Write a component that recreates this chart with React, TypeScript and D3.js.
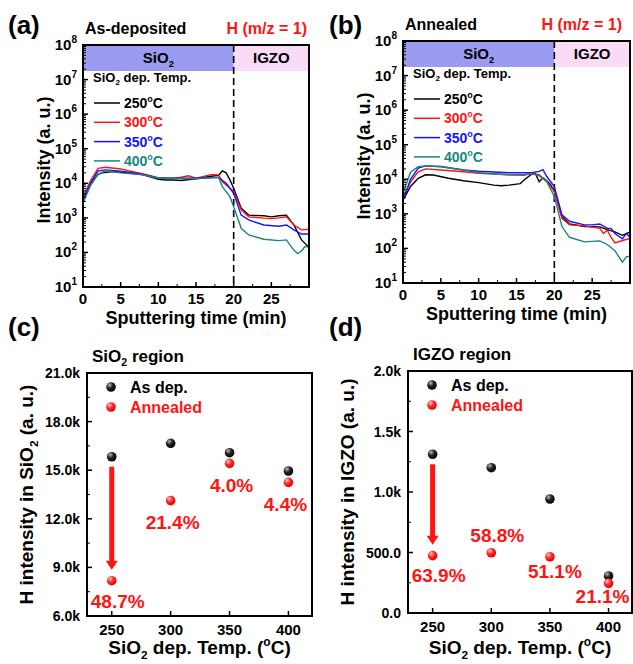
import React from 'react'
import * as d3 from 'd3'

const FONT = "'Liberation Sans', Arial, Helvetica, sans-serif"
const RED = '#ff1414'

// sputtering time (min) vs H intensity, SIMS depth profiles
type Pt = [number, number]

const asDep250: Pt[] = [[0, 3000], [1, 10000], [2, 18000], [2.5, 20000], [4, 22000], [6, 20000], [8, 17500], [10, 13000], [11, 12500], [12, 12500], [13, 12000], [15, 13500], [17, 16000], [18, 17000], [18.5, 23000], [19, 20000], [19.5, 12500], [20, 7200], [21, 1900], [22, 1200], [24, 1150], [25, 1070], [26, 1150], [27, 1200], [28, 620], [29, 230], [30, 140]]
const asDep300: Pt[] = [[0, 4000], [1, 12000], [2, 27000], [3, 29000], [5, 26000], [6, 23000], [8, 18500], [10, 14500], [12, 14000], [13, 15000], [14, 16500], [15, 14000], [17, 17800], [18, 17500], [18.5, 11000], [19, 9000], [20, 5800], [21, 1700], [22, 1070], [24, 980], [25, 950], [26, 1000], [27, 1070], [28, 620], [29, 450], [30, 470]]
const asDep350: Pt[] = [[0, 3300], [1, 10000], [2, 23000], [3, 24500], [5, 22500], [8, 18000], [10, 14000], [12, 14000], [15, 14000], [18, 14800], [19, 10000], [20, 5100], [21, 1200], [22, 870], [24, 620], [26, 570], [27, 620], [28, 450], [29, 340], [30, 340]]
const asDep400: Pt[] = [[0, 2750], [1, 8500], [2, 18500], [3, 23000], [5, 20000], [8, 17500], [10, 14000], [15, 13500], [18, 14800], [18.5, 8000], [19.5, 4100], [20, 2100], [21, 500], [22, 320], [24, 240], [26, 220], [27, 230], [28, 115], [28.5, 93], [29, 110], [29.5, 150], [30, 140]]

const ann250: Pt[] = [[0, 2500], [1, 6200], [2, 10700], [3, 13500], [4, 13300], [6, 10700], [8, 9100], [10, 8000], [12, 6800], [13, 6500], [14, 6800], [15.5, 7500], [16, 9500], [17, 14000], [17.5, 14500], [18, 8500], [18.5, 11000], [19, 9000], [19.5, 7000], [20, 4400], [21, 830], [22, 510], [24, 430], [26, 420], [27, 350], [28, 300], [29, 240], [30, 300]]
const ann300: Pt[] = [[0, 2800], [1, 8400], [2, 16500], [3, 20000], [5, 18600], [8, 16500], [10, 15000], [14, 13500], [16, 13500], [17, 14500], [18, 13500], [19, 8700], [20, 4400], [21, 740], [22, 480], [24, 450], [26, 380], [26.5, 270], [27, 340], [27.5, 210], [28, 145], [29, 170], [30, 195]]
const ann350: Pt[] = [[0, 2500], [1, 10000], [2, 21000], [3, 24500], [5, 23500], [8, 18500], [10, 17000], [14, 15500], [17, 15500], [18, 17000], [18.5, 19000], [19, 12000], [20, 6200], [21, 940], [22, 610], [24, 480], [25, 480], [26, 510], [27, 380], [27.5, 380], [28, 270], [29, 190], [29.5, 270], [30, 210]]
const ann400: Pt[] = [[0, 3900], [1, 16000], [2, 23000], [3, 24500], [5, 23000], [8, 18500], [10, 15500], [14, 13500], [16, 13000], [17, 15000], [18, 12500], [19, 8500], [20, 3200], [21, 430], [22, 210], [24, 155], [26, 165], [27, 130], [28, 86], [29, 40], [29.5, 57], [30, 60]]

const tempLabels = ['250', '300', '350', '400']
const seriesColors = ['#000000', RED, '#1414ff', '#17877f']
const timeTicks = [0, 5, 10, 15, 20, 25]

// integrated H intensity per region
const temps = [250, 300, 350, 400]
const sio2AsDep = [15830, 16660, 16080, 14950]
const sio2Annealed = [8180, 13120, 15420, 14250]
const sio2Drop = ['48.7%', '21.4%', '4.0%', '4.4%']
const sio2Ticks = [6000, 9000, 12000, 15000, 18000, 21000]
const sio2TickLabels = ['6.0k', '9.0k', '12.0k', '15.0k', '18.0k', '21.0k']
const igzoAsDep = [1312, 1201, 942, 306]
const igzoAnnealed = [474, 498, 465, 245]
const igzoDrop = ['63.9%', '58.8%', '51.1%', '21.1%']
const igzoTicks = [0, 500, 1000, 1500, 2000]
const igzoTickLabels = ['0.0', '500.0', '1.0k', '1.5k', '2.0k']

// label nudges (px) for the percentages, relative to the annealed dot
const sio2LabelOffset: Pt[] = [[6, 27], [2, 28], [2, 29], [-3, 29]]
const igzoLabelOffset: Pt[] = [[6, 26], [6, -11], [5, 21], [-6, 20]]

// "SiO2" with subscript, optional trailing text back on the baseline
const SiO2 = ({ size, rest }: { size: number, rest?: React.ReactNode }) => (
    <>
        <tspan>SiO</tspan>
        <tspan dy={size * 0.25} fontSize={size * 0.62}>2</tspan>
        {rest && <tspan dy={-size * 0.25}>{rest}</tspan>}
    </>
)

const Frame = ({ x0, x1, y0, y1 }) => (
    <rect x={x0} y={y0} width={x1 - x0} height={y1 - y0} fill='none' stroke='#000' strokeWidth={2} />
)

const ProfilePanel = ({ id, x0, x1, y0, y1, series, letter, letterX, title, titleY, hEnd }) => {
    const x = d3.scaleLinear().domain([0, 30]).range([x0, x1])
    const y = d3.scaleLog().domain([10, 1e8]).range([y1, y0])
    const line = d3.line<Pt>().x(d => x(d[0])).y(d => y(d[1]))
    const bandBottom = y0 + 26
    const decades = d3.range(1, 9)
    const minors = d3.range(1, 8).flatMap(e => d3.range(2, 10).map(m => m * 10 ** e))
    const xMinor = d3.range(2.5, 30, 5)

    return (
        <g fontFamily={FONT} fontWeight='bold'>
            <clipPath id={id}><rect x={x0} y={y0} width={x1 - x0} height={y1 - y0} /></clipPath>
            <text x={letterX} y={34} fontSize={26}>{letter}</text>
            <text x={x0 + 2} y={titleY} fontSize={16}>{title}</text>
            <text x={hEnd} y={titleY} fontSize={16} fill={RED} textAnchor='end'>H (m/z = 1)</text>

            {/* region bands */}
            <rect x={x0} y={y0} width={x(20) - x0} height={bandBottom - y0} fill='#9b9bf0' />
            <rect x={x(20)} y={y0} width={x1 - x(20)} height={bandBottom - y0} fill='#f8dcf6' />
            <text x={(x0 + x(20)) / 2} y={bandBottom - 8} fontSize={15} textAnchor='middle'><SiO2 size={15} /></text>
            <text x={(x(20) + x1) / 2} y={bandBottom - 8} fontSize={15} textAnchor='middle'>IGZO</text>
            <line x1={x(20)} x2={x(20)} y1={y0} y2={y1} stroke='#000' strokeWidth={1.6} strokeDasharray='7,4' />

            {/* legend */}
            <text x={x0 + 10} y={y0 + 37} fontSize={13}><SiO2 size={13} rest=' dep. Temp.' /></text>
            {tempLabels.map((t, i) => {
                const ly = y0 + 58 + i * 19.3
                return (
                    <g key={t}>
                        <line x1={x0 + 11} x2={x0 + 37} y1={ly} y2={ly} stroke={seriesColors[i]} strokeWidth={1.5} />
                        <text x={x0 + 41} y={ly + 5} fontSize={14} fill={seriesColors[i]}>
                            {t}<tspan dy={-6} fontSize={9}>o</tspan><tspan dy={6}>C</tspan>
                        </text>
                    </g>
                )
            })}

            <g clipPath={`url(#${id})`}>
                {series.map((s, i) => (
                    <path key={i} d={line(s)} fill='none' stroke={seriesColors[i]} strokeWidth={1.4} />
                ))}
            </g>

            {/* y axis */}
            {decades.map(e => (
                <g key={e}>
                    <line x1={x0} x2={x0 + 5} y1={y(10 ** e)} y2={y(10 ** e)} stroke='#000' strokeWidth={1.5} />
                    <text x={x0 - 6} y={y(10 ** e) + 5} fontSize={15} textAnchor='end'>
                        10<tspan dy={-7} fontSize={10}>{e}</tspan>
                    </text>
                </g>
            ))}
            {minors.map(v => (
                <line key={v} x1={x0} x2={x0 + 3} y1={y(v)} y2={y(v)} stroke='#000' strokeWidth={1} />
            ))}
            {/* x axis */}
            {timeTicks.map(t => (
                <g key={t}>
                    <line x1={x(t)} x2={x(t)} y1={y1} y2={y1 - 5} stroke='#000' strokeWidth={1.5} />
                    <text x={x(t)} y={y1 + 17} fontSize={15} textAnchor='middle'>{t}</text>
                </g>
            ))}
            {xMinor.map(t => (
                <line key={t} x1={x(t)} x2={x(t)} y1={y1} y2={y1 - 3} stroke='#000' strokeWidth={1} />
            ))}
            <Frame x0={x0} x1={x1} y0={y0} y1={y1} />

            <text x={(x0 + x1) / 2} y={y1 + 37} fontSize={18} textAnchor='middle'>Sputtering time (min)</text>
            <text transform={`translate(${x0 - 33},${(y0 + y1) / 2 - 6}) rotate(-90)`} fontSize={18} textAnchor='middle'>
                Intensity (a. u.)
            </text>
        </g>
    )
}

const ScatterPanel = ({ x0, x1, y0, y1, domain, ticks, tickLabels, asDep, annealed, drops, offsets, letter, letterX, regionNode, yTitle }) => {
    const x = d3.scaleLinear().domain([229, 420]).range([x0, x1])
    const y = d3.scaleLinear().domain(domain).range([y1, y0])
    const step = ticks[1] - ticks[0]
    const minors = ticks.slice(0, -1).map(t => t + step / 2)
    const ax = x(temps[0])
    const aTop = y(asDep[0]) + 10
    const aTip = y(annealed[0]) - 11

    return (
        <g fontFamily={FONT} fontWeight='bold'>
            <text x={letterX} y={336} fontSize={26}>{letter}</text>
            <text x={x0 + 5} y={y0 - 11} fontSize={17}>{regionNode}</text>

            {ticks.map((t, i) => (
                <g key={t}>
                    <line x1={x0} x2={x0 + 5} y1={y(t)} y2={y(t)} stroke='#000' strokeWidth={1.5} />
                    <text x={x0 - 7} y={y(t) + 5} fontSize={14} textAnchor='end'>{tickLabels[i]}</text>
                </g>
            ))}
            {minors.map(t => (
                <line key={t} x1={x0} x2={x0 + 3} y1={y(t)} y2={y(t)} stroke='#000' strokeWidth={1} />
            ))}
            {temps.map(t => (
                <g key={t}>
                    <line x1={x(t)} x2={x(t)} y1={y1} y2={y1 - 5} stroke='#000' strokeWidth={1.5} />
                    <text x={x(t)} y={y1 + 19} fontSize={15} textAnchor='middle'>{t}</text>
                </g>
            ))}
            <Frame x0={x0} x1={x1} y0={y0} y1={y1} />

            {/* legend */}
            <circle cx={x0 + 24} cy={y0 + 14} r={4.8} fill='url(#ballBlack)' />
            <text x={x0 + 43} y={y0 + 20} fontSize={16}>As dep.</text>
            <circle cx={x0 + 24} cy={y0 + 34} r={4.8} fill='url(#ballRed)' />
            <text x={x0 + 43} y={y0 + 40} fontSize={16} fill={RED}>Annealed</text>

            {/* arrow */}
            <line x1={ax} x2={ax} y1={aTop} y2={aTip - 8} stroke={RED} strokeWidth={5} />
            <path d={`M${ax - 6},${aTip - 9} L${ax + 6},${aTip - 9} L${ax},${aTip} Z`} fill={RED} />

            {temps.map((t, i) => (
                <g key={t}>
                    <circle cx={x(t)} cy={y(asDep[i])} r={4.8} fill='url(#ballBlack)' />
                    <circle cx={x(t)} cy={y(annealed[i])} r={4.8} fill='url(#ballRed)' />
                    <text x={x(t) + offsets[i][0]} y={y(annealed[i]) + offsets[i][1]} fontSize={19} fill={RED} textAnchor='middle'>
                        {drops[i]}
                    </text>
                </g>
            ))}

            <text x={(x0 + x1) / 2} y={654} fontSize={19} textAnchor='middle'>
                <SiO2 size={19} rest={<> dep. Temp. (</>} /><tspan dy={-8} fontSize={12}>o</tspan><tspan dy={8}>C)</tspan>
            </text>
            <text transform={`translate(${x0 - 54},${(y0 + y1) / 2}) rotate(-90)`} fontSize={19} textAnchor='middle'>
                {yTitle}
            </text>
        </g>
    )
}

const App = () => {
    return (
        <svg width={633} height={664} style={{ position: 'absolute', left: 0, top: 0, background: '#fff' }}>
            <defs>
                <radialGradient id='ballBlack' cx='0.35' cy='0.3' r='0.75'>
                    <stop offset='0%' stopColor='#bbbbbb' />
                    <stop offset='45%' stopColor='#222' />
                    <stop offset='100%' stopColor='#000' />
                </radialGradient>
                <radialGradient id='ballRed' cx='0.35' cy='0.3' r='0.75'>
                    <stop offset='0%' stopColor='#ffc8c8' />
                    <stop offset='45%' stopColor='#ff2a2a' />
                    <stop offset='100%' stopColor='#d80000' />
                </radialGradient>
            </defs>
            <rect width={633} height={664} fill='#fff' />

            <ProfilePanel id='clipA' x0={83} x1={309} y0={45} y1={287}
                series={[asDep250, asDep300, asDep350, asDep400]}
                letter='(a)' letterX={8} title='As-deposited' titleY={34} hEnd={307} />
            <ProfilePanel id='clipB' x0={403} x1={630} y0={41} y1={283}
                series={[ann250, ann300, ann350, ann400]}
                letter='(b)' letterX={329} title='Annealed' titleY={30} hEnd={622} />

            <ScatterPanel x0={87} x1={312} y0={373} y1={616} domain={[6000, 21000]}
                ticks={sio2Ticks} tickLabels={sio2TickLabels}
                asDep={sio2AsDep} annealed={sio2Annealed} drops={sio2Drop} offsets={sio2LabelOffset}
                letter='(c)' letterX={8}
                regionNode={<SiO2 size={17} rest=' region' />}
                yTitle={<>H intensity in <SiO2 size={19} rest=' (a. u.)' /></>} />
            <ScatterPanel x0={408} x1={632} y0={371} y1={613} domain={[0, 2000]}
                ticks={igzoTicks} tickLabels={igzoTickLabels}
                asDep={igzoAsDep} annealed={igzoAnnealed} drops={igzoDrop} offsets={igzoLabelOffset}
                letter='(d)' letterX={329}
                regionNode={<>IGZO region</>}
                yTitle={<>H intensity in IGZO (a. u.)</>} />
        </svg>
    )
}

export default App
